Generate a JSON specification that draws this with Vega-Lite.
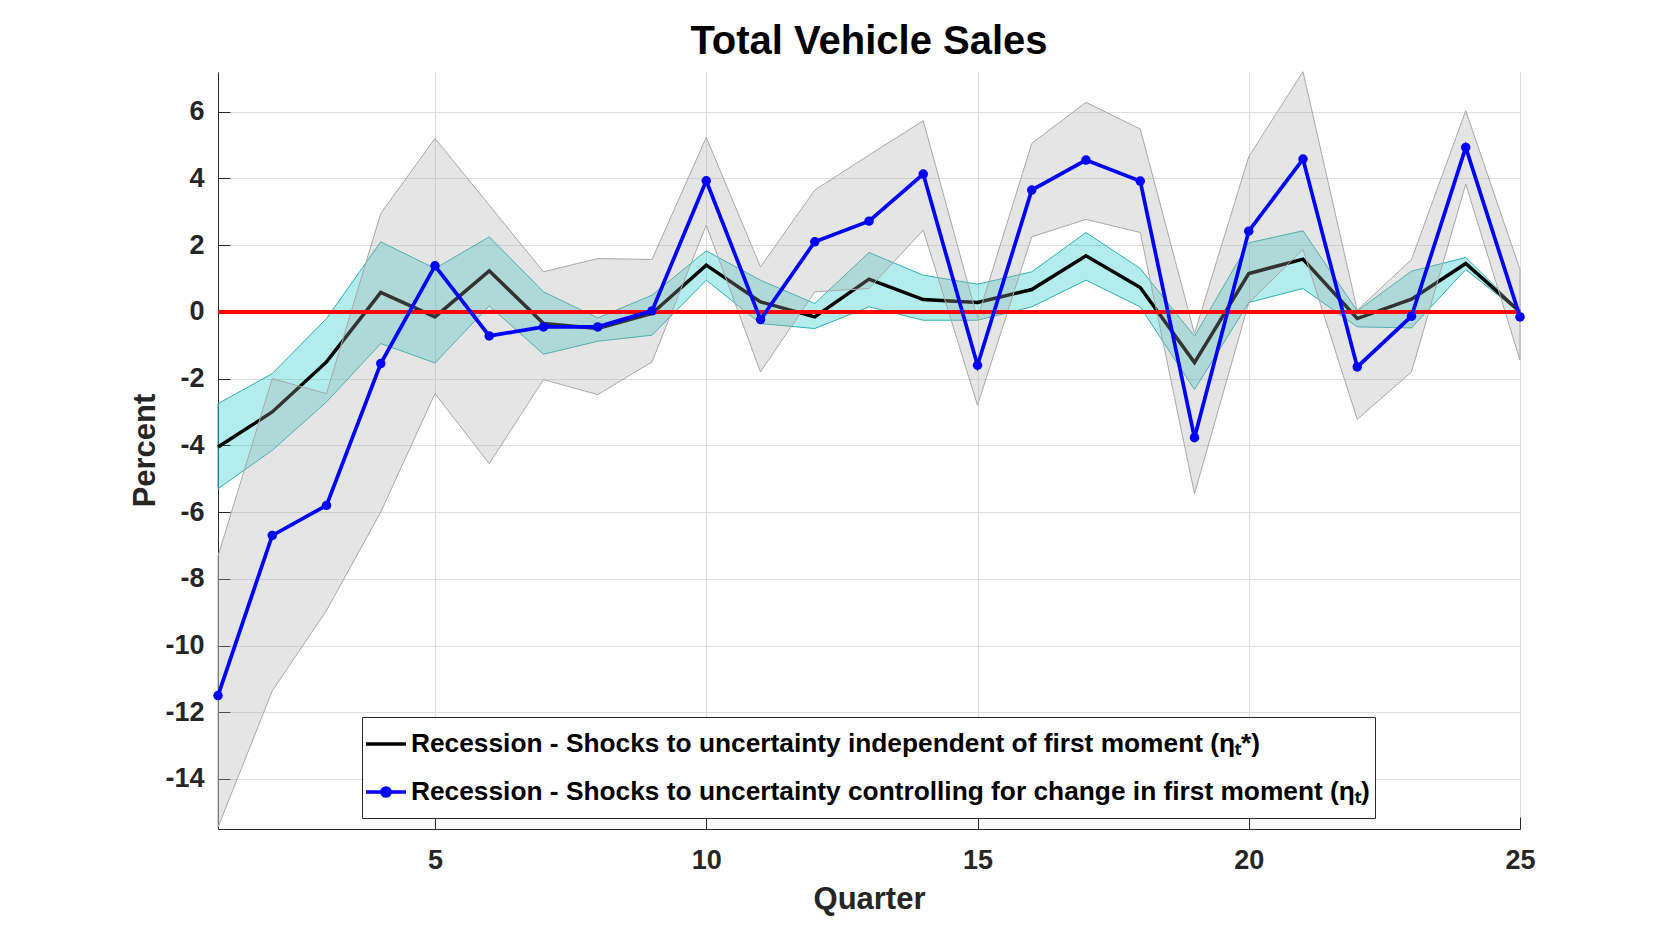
{
  "$schema": "https://vega.github.io/schema/vega-lite/v6.json",
  "width": 1302,
  "height": 757,
  "autosize": {"type": "none"},
  "padding": {"left": 218, "top": 72, "right": 160, "bottom": 104},
  "background": "white",
  "title": {"text": "Total Vehicle Sales", "font": "Liberation Sans", "fontSize": 40, "fontWeight": "bold", "color": "#000000", "anchor": "middle", "baseline": "alphabetic", "offset": -24},
  "data": {"values": [
    {"q": 1, "med": -4.05, "cHi": -2.75, "cLo": -5.3, "blue": -11.5, "gHi": -7.32, "gLo": -15.45},
    {"q": 2, "med": -3.0, "cHi": -1.85, "cLo": -4.15, "blue": -6.7, "gHi": -2.0, "gLo": -11.36},
    {"q": 3, "med": -1.5, "cHi": -0.2, "cLo": -2.7, "blue": -5.8, "gHi": -2.45, "gLo": -8.95},
    {"q": 4, "med": 0.58, "cHi": 2.1, "cLo": -0.95, "blue": -1.55, "gHi": 2.95, "gLo": -6.0},
    {"q": 5, "med": -0.15, "cHi": 1.3, "cLo": -1.53, "blue": 1.38, "gHi": 5.2, "gLo": -2.45},
    {"q": 6, "med": 1.23, "cHi": 2.25, "cLo": 0.18, "blue": -0.72, "gHi": 3.2, "gLo": -4.55},
    {"q": 7, "med": -0.35, "cHi": 0.6, "cLo": -1.27, "blue": -0.45, "gHi": 1.2, "gLo": -2.03},
    {"q": 8, "med": -0.5, "cHi": -0.18, "cLo": -0.88, "blue": -0.45, "gHi": 1.6, "gLo": -2.48},
    {"q": 9, "med": -0.05, "cHi": 0.5, "cLo": -0.7, "blue": 0.03, "gHi": 1.57, "gLo": -1.5},
    {"q": 10, "med": 1.4, "cHi": 1.83, "cLo": 0.95, "blue": 3.93, "gHi": 5.23, "gLo": 2.6},
    {"q": 11, "med": 0.3, "cHi": 0.95, "cLo": -0.35, "blue": -0.23, "gHi": 1.35, "gLo": -1.8},
    {"q": 12, "med": -0.15, "cHi": 0.25, "cLo": -0.5, "blue": 2.1, "gHi": 3.65, "gLo": 0.6},
    {"q": 13, "med": 0.98, "cHi": 1.78, "cLo": 0.15, "blue": 2.72, "gHi": 4.7, "gLo": 0.7},
    {"q": 14, "med": 0.37, "cHi": 1.1, "cLo": -0.25, "blue": 4.13, "gHi": 5.73, "gLo": 2.45},
    {"q": 15, "med": 0.28, "cHi": 0.83, "cLo": -0.25, "blue": -1.6, "gHi": -0.2, "gLo": -2.8},
    {"q": 16, "med": 0.67, "cHi": 1.2, "cLo": 0.15, "blue": 3.65, "gHi": 5.05, "gLo": 2.25},
    {"q": 17, "med": 1.68, "cHi": 2.38, "cLo": 0.95, "blue": 4.55, "gHi": 6.28, "gLo": 2.77},
    {"q": 18, "med": 0.73, "cHi": 1.3, "cLo": 0.15, "blue": 3.92, "gHi": 5.48, "gLo": 2.38},
    {"q": 19, "med": -1.52, "cHi": -0.73, "cLo": -2.33, "blue": -3.77, "gHi": -0.65, "gLo": -5.45},
    {"q": 20, "med": 1.15, "cHi": 2.07, "cLo": 0.28, "blue": 2.42, "gHi": 4.65, "gLo": 0.27},
    {"q": 21, "med": 1.58, "cHi": 2.43, "cLo": 0.7, "blue": 4.58, "gHi": 7.2, "gLo": 1.87},
    {"q": 22, "med": -0.2, "cHi": 0.03, "cLo": -0.45, "blue": -1.65, "gHi": 0.05, "gLo": -3.22},
    {"q": 23, "med": 0.38, "cHi": 1.22, "cLo": -0.48, "blue": -0.13, "gHi": 1.57, "gLo": -1.8},
    {"q": 24, "med": 1.45, "cHi": 1.63, "cLo": 1.27, "blue": 4.93, "gHi": 6.03, "gLo": 3.83},
    {"q": 25, "med": 0.0, "cHi": 0.03, "cLo": -0.03, "blue": -0.15, "gHi": 1.27, "gLo": -1.45}
  ]},
  "layer": [
    {
      "mark": {"type": "area", "fill": "#00c0c0", "fillOpacity": 0.3, "stroke": "#30b0b0", "strokeWidth": 1},
      "encoding": {
        "x": {"field": "q", "type": "quantitative", "title": "Quarter",
          "scale": {"domain": [1, 25], "nice": false, "zero": false},
          "axis": {"values": [5, 10, 15, 20, 25], "grid": true, "gridColor": "#dedede", "gridWidth": 1,
            "domainColor": "#262626", "domainWidth": 1, "tickColor": "#262626", "tickWidth": 1, "tickSize": -12,
            "labelFont": "Liberation Sans", "labelFontSize": 27, "labelFontWeight": "bold", "labelColor": "#262626",
            "labelBaseline": "alphabetic", "labelPadding": 51, "labelFlush": false, "labelOverlap": false,
            "titleFont": "Liberation Sans", "titleFontSize": 31, "titleFontWeight": "bold", "titleColor": "#262626",
            "titleBaseline": "alphabetic", "titleX": 651, "titleY": 79, "titleAlign": "center"}},
        "y": {"field": "cLo", "type": "quantitative", "title": "Percent",
          "scale": {"domain": [-15.5, 7.19], "nice": false, "zero": false},
          "axis": {"values": [-14, -12, -10, -8, -6, -4, -2, 0, 2, 4, 6], "grid": true, "gridColor": "#dedede", "gridWidth": 1,
            "domainColor": "#262626", "domainWidth": 1, "tickColor": "#262626", "tickWidth": 1, "tickSize": -12,
            "labelExpr": "'' + datum.value",
            "labelFont": "Liberation Sans", "labelFontSize": 27, "labelFontWeight": "bold", "labelColor": "#262626",
            "labelPadding": 26, "labelOverlap": false, "labelFlush": false,
            "titleFont": "Liberation Sans", "titleFontSize": 31, "titleFontWeight": "bold", "titleColor": "#262626",
            "titleBaseline": "alphabetic", "titleX": -64, "titleY": 378, "titleAlign": "center", "titleAngle": 270}},
        "y2": {"field": "cHi"}
      }
    },
    {
      "mark": {"type": "line", "strokeWidth": 3.5},
      "encoding": {
        "x": {"field": "q", "type": "quantitative", "title": "Quarter"},
        "y": {"field": "med", "type": "quantitative", "title": "Percent"},
        "color": {"datum": "Recession - Shocks to uncertainty independent of first moment (ηₜ*)", "type": "nominal",
          "scale": {"domain": ["Recession - Shocks to uncertainty independent of first moment (ηₜ*)", "Recession - Shocks to uncertainty controlling for change in first moment (ηₜ)"], "range": ["#000000", "#0000ff"]},
          "legend": {"orient": "none", "legendX": 144, "legendY": 645, "direction": "vertical",
            "title": " ", "titleOrient": "bottom", "titleFontSize": 4, "titlePadding": 4,
            "labelFont": "Liberation Sans", "labelFontSize": 26.3, "labelFontWeight": "bold", "labelColor": "#000000", "labelLimit": 3000,
            "labelOffset": 3, "symbolOffset": -3, "symbolSize": 1600, "symbolStrokeWidth": 3, "rowPadding": 12, "padding": 5,
            "strokeColor": "#262626", "fillColor": "#ffffff",
            "encode": {"symbols": {"update": {
              "shape": {"signal": "datum.index === 1 ? 'M-1,0L1,0M-0.21,0A0.21,0.21,0,1,0,0.21,0A0.21,0.21,0,1,0,-0.21,0Z' : 'stroke'"},
              "fill": {"signal": "datum.index === 1 ? '#0000ff' : 'transparent'"},
              "fillOpacity": {"value": 1},
              "strokeWidth": {"value": 3.3}
            }}}}
        }
      }
    },
    {
      "mark": {"type": "area", "fill": "#aaaaaa", "fillOpacity": 0.3, "stroke": "#a8a8a8", "strokeWidth": 1},
      "encoding": {
        "x": {"field": "q", "type": "quantitative", "title": "Quarter"},
        "y": {"field": "gLo", "type": "quantitative", "title": "Percent"},
        "y2": {"field": "gHi"}
      }
    },
    {
      "mark": {"type": "rule", "color": "#ff0000", "strokeWidth": 3.3},
      "encoding": {"y": {"datum": 0, "type": "quantitative"}}
    },
    {
      "mark": {"type": "line", "strokeWidth": 3.7, "point": {"filled": true, "size": 90}},
      "encoding": {
        "x": {"field": "q", "type": "quantitative", "title": "Quarter"},
        "y": {"field": "blue", "type": "quantitative", "title": "Percent"},
        "color": {"datum": "Recession - Shocks to uncertainty controlling for change in first moment (ηₜ)", "type": "nominal"}
      }
    }
  ],
  "config": {"view": {"stroke": null}}
}
